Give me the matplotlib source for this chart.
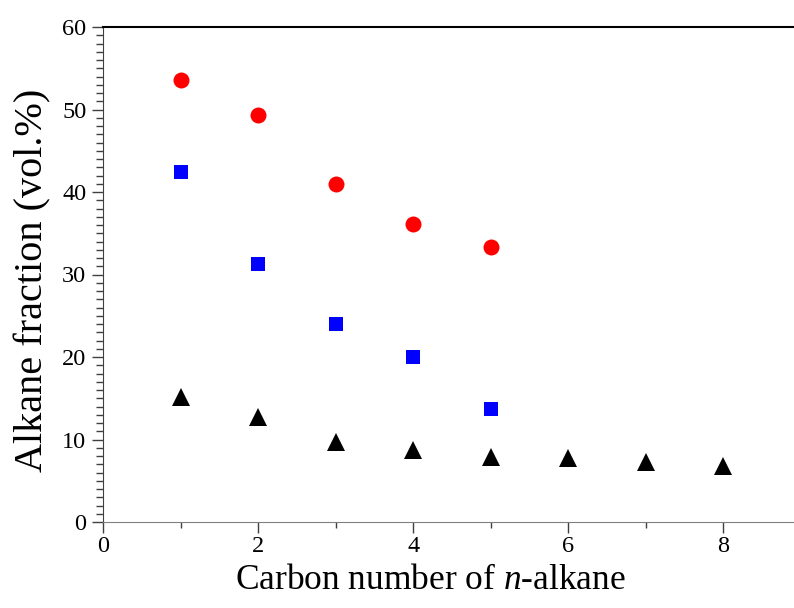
import matplotlib
matplotlib.use("Agg")
from matplotlib import pyplot as plt
from matplotlib import ticker

carbon_c = [1, 2, 3, 4, 5]
red_vals = [53.6, 49.3, 41.0, 36.1, 33.3]
blue_vals = [42.4, 31.3, 24.0, 20.0, 13.7]
carbon_t = [1, 2, 3, 4, 5, 6, 7, 8]
black_vals = [15.2, 12.7, 9.7, 8.7, 7.9, 7.8, 7.3, 6.8]

FIGSIZE = (794, 608)
DPI = 100

plt.rcParams["font.family"] = ["Liberation Serif", "DejaVu Serif"]
plt.rcParams["mathtext.fontset"] = "custom"
plt.rcParams["mathtext.it"] = "Liberation Serif:italic"
plt.rcParams["mathtext.rm"] = "Liberation Serif"

fig = plt.figure(figsize=(FIGSIZE[0]/DPI, FIGSIZE[1]/DPI), dpi=DPI)
ax = fig.add_axes([103/794, 86/608, 690/794, 495/608])

ax.plot(carbon_c, red_vals, "o", color="#ff0000", markersize=11.5, markeredgewidth=0)
ax.plot(carbon_c, blue_vals, "s", color="#0000ff", markersize=10.5, markeredgewidth=0)
ax.plot(carbon_t, black_vals, "^", color="black", markersize=13, markeredgewidth=0)

ax.set_xlim(0, 8.9)
ax.set_ylim(0, 60)

ax.xaxis.set_major_locator(ticker.MultipleLocator(2))
ax.xaxis.set_minor_locator(ticker.MultipleLocator(1))
ax.yaxis.set_major_locator(ticker.MultipleLocator(10))
ax.yaxis.set_minor_locator(ticker.MultipleLocator(1))

ax.spines["right"].set_visible(False)
ax.spines["top"].set_color("black")
ax.spines["top"].set_linewidth(1.5)
ax.spines["left"].set_color("#404040")
ax.spines["bottom"].set_color("#808080")

ax.tick_params(axis="both", which="major", direction="out", length=8, width=1,
               color="#404040", labelsize=17.5)
ax.tick_params(axis="y", which="major", pad=4)
ax.tick_params(axis="x", which="major", pad=2)
ax.tick_params(axis="y", which="minor", direction="out", length=5, width=1,
               color="#404040")
ax.tick_params(axis="x", which="minor", direction="out", length=4, width=1,
               color="#404040")

ax.set_xlabel("Carbon number of $\\it{n}$-alkane", fontsize=25.5, labelpad=5)
ax.set_ylabel("Alkane fraction (vol.%)", fontsize=29, labelpad=8)
# labels sit a bit off-centre in the original
ax.xaxis.label.set_x(0.475)
ax.yaxis.label.set_y(0.489)

fig.savefig("out.png", dpi=DPI)
